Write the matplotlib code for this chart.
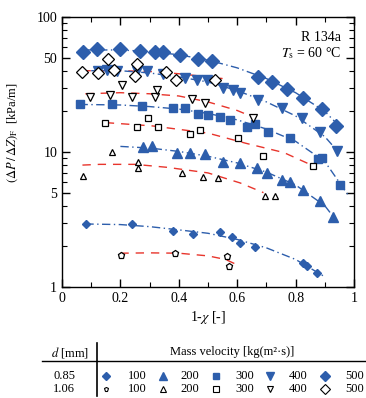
import numpy as np
import matplotlib
matplotlib.use("Agg")
import matplotlib.pyplot as plt
from matplotlib.ticker import FixedLocator, NullFormatter, MultipleLocator

plt.rcParams['font.family'] = ['Liberation Serif', 'DejaVu Serif']
plt.rcParams['mathtext.fontset'] = 'stix'

BLUE = '#2d5eac'
RED = '#e8352c'

# --- d = 0.85 mm (filled, blue) measured points ---
x85_500 = [0.072, 0.12, 0.199, 0.267, 0.318, 0.346, 0.404, 0.466, 0.514, 0.671, 0.719, 0.77, 0.825, 0.89, 0.94]
y85_500 = [55, 58, 58, 56, 55, 55, 52.3, 48.9, 47.2, 36, 33, 29.3, 25.1, 20.8, 15.6]
x85_400 = [0.123, 0.154, 0.188, 0.257, 0.29, 0.346, 0.421, 0.462, 0.497, 0.551, 0.586, 0.61, 0.671, 0.753, 0.822, 0.884, 0.942]
y85_400 = [39.8, 40.5, 40, 40, 40, 37.8, 35.3, 34.1, 34, 29.8, 28.8, 27.4, 24.3, 21.2, 17.9, 14.1, 10.2]
x85_300 = [0.062, 0.171, 0.274, 0.38, 0.421, 0.466, 0.5, 0.541, 0.575, 0.634, 0.661, 0.705, 0.781, 0.877, 0.89, 0.952]
y85_300 = [22.7, 22.7, 21.9, 21.2, 21.2, 19.1, 18.8, 18.2, 17.3, 15.3, 16.1, 14.1, 12.7, 8.9, 9.0, 5.7]
x85_200 = [0.277, 0.308, 0.394, 0.438, 0.49, 0.551, 0.61, 0.668, 0.702, 0.753, 0.781, 0.825, 0.884, 0.928]
y85_200 = [10.9, 11.1, 9.8, 9.8, 9.7, 8.4, 8.3, 7.6, 7.0, 6.2, 6.0, 5.2, 4.3, 3.3]
x85_100 = [0.082, 0.24, 0.38, 0.449, 0.541, 0.582, 0.61, 0.661, 0.825, 0.839, 0.873]
y85_100 = [2.93, 2.93, 2.6, 2.47, 2.55, 2.35, 2.12, 1.98, 1.5, 1.42, 1.27]

# --- d = 1.06 mm (hollow, black) measured points ---
x106_500 = [0.068, 0.123, 0.158, 0.178, 0.25, 0.257, 0.356, 0.39, 0.524]
y106_500 = [39.2, 38.5, 48.9, 40.5, 36.6, 44.9, 39.2, 34.2, 34.2]
x106_400 = [0.096, 0.164, 0.205, 0.24, 0.318, 0.325, 0.445, 0.49, 0.654]
y106_400 = [25.5, 26.4, 31.4, 25.5, 25.5, 28.8, 24.7, 23.1, 17.9]
x106_300 = [0.147, 0.257, 0.295, 0.329, 0.438, 0.473, 0.603, 0.688, 0.86]
y106_300 = [16.4, 15.3, 17.9, 15.3, 13.6, 14.6, 12.7, 9.3, 7.9]
x106_200 = [0.072, 0.171, 0.26, 0.26, 0.411, 0.483, 0.534, 0.695, 0.729]
y106_200 = [6.6, 10.0, 8.4, 7.6, 7.0, 6.5, 6.4, 4.7, 4.7]
x106_100 = [0.202, 0.387, 0.565, 0.572]
y106_100 = [1.73, 1.79, 1.70, 1.43]

# --- correlation curves ---
cx85_500 = [0.07, 0.2, 0.3, 0.4, 0.5, 0.6, 0.7, 0.8, 0.9, 0.95]
cy85_500 = [57, 57, 55.5, 52.5, 48, 42, 35, 27.5, 20, 15.5]
cx85_400 = [0.1, 0.2, 0.3, 0.4, 0.5, 0.6, 0.7, 0.8, 0.9, 0.95]
cy85_400 = [40, 40, 38.5, 36, 33, 28.5, 23.5, 18.5, 13, 9.8]
cx85_300 = [0.06, 0.2, 0.3, 0.4, 0.5, 0.6, 0.7, 0.8, 0.9, 0.98]
cy85_300 = [22.5, 22.3, 21.7, 20.8, 19.3, 17.3, 14.8, 12, 8.5, 4.8]
cx85_200 = [0.2, 0.3, 0.4, 0.5, 0.6, 0.7, 0.8, 0.9, 0.93]
cy85_200 = [11, 10.7, 10.1, 9.3, 8.3, 7.1, 5.7, 4.0, 3.3]
cx85_100 = [0.08, 0.2, 0.3, 0.4, 0.5, 0.6, 0.7, 0.8, 0.9]
cy85_100 = [2.93, 2.9, 2.8, 2.65, 2.5, 2.25, 1.95, 1.6, 1.19]

cx106_500 = [0.07, 0.2, 0.3, 0.4, 0.5, 0.55]
cy106_500 = [40, 40, 39.5, 38, 36, 35]
cx106_400 = [0.08, 0.2, 0.3, 0.4, 0.5, 0.6, 0.65]
cy106_400 = [27, 27.5, 27, 26, 23.5, 20.3, 18.3]
cx106_300 = [0.15, 0.31, 0.5, 0.63, 0.76, 0.86]
cy106_300 = [16.5, 15.6, 13.8, 11.6, 9.9, 7.9]
cx106_200 = [0.07, 0.13, 0.25, 0.36, 0.5, 0.61, 0.69]
cy106_200 = [8.0, 8.1, 8.1, 7.7, 7.0, 5.9, 5.0]
cx106_100 = [0.2, 0.3, 0.4, 0.5, 0.56, 0.6]
cy106_100 = [1.78, 1.79, 1.78, 1.7, 1.6, 1.46]

mass_velocity = ['100', '200', '300', '400', '500']
markers = ['D', '^', 's', 'v', 'D']
ms85 = [4.5, 6.5, 6, 6.5, 7]
ms106 = [4.5, 5, 5, 5.5, 6.5]
hollow_markers = ['p', '^', 's', 'v', 'D']

W, H = 366, 398
fig = plt.figure(figsize=(W / 100, H / 100), dpi=100)
ax = fig.add_axes([62 / W, 1 - 287 / H, 292 / W, 270 / H])

pts85 = [(x85_100, y85_100), (x85_200, y85_200), (x85_300, y85_300), (x85_400, y85_400), (x85_500, y85_500)]
cur85 = [(cx85_100, cy85_100), (cx85_200, cy85_200), (cx85_300, cy85_300), (cx85_400, cy85_400), (cx85_500, cy85_500)]
pts106 = [(x106_100, y106_100), (x106_200, y106_200), (x106_300, y106_300), (x106_400, y106_400), (x106_500, y106_500)]
cur106 = [(cx106_100, cy106_100), (cx106_200, cy106_200), (cx106_300, cy106_300), (cx106_400, cy106_400), (cx106_500, cy106_500)]

for (cx, cy) in cur106:
    ax.plot(cx, cy, color=RED, lw=1.0, dashes=(6, 5), zorder=2)
for (cx, cy) in cur85:
    ax.plot(cx, cy, color=BLUE, lw=1.0, dashes=(6, 2.5, 1, 2.5), zorder=2)

for i, (px, py) in enumerate(pts85):
    ax.plot(px, py, linestyle='none', marker=markers[i], ms=ms85[i],
            color=BLUE, mec=BLUE, zorder=3)
for i, (px, py) in enumerate(pts106):
    ax.plot(px, py, linestyle='none', marker=hollow_markers[i], ms=ms106[i],
            mfc='white', mec='black', mew=0.9, zorder=4)

ax.set_yscale('log')
ax.set_xlim(0, 1)
ax.set_ylim(1, 100)
ax.xaxis.set_minor_locator(MultipleLocator(0.1))
ax.set_xticks([0, 0.2, 0.4, 0.6, 0.8, 1.0])
ax.set_xticklabels(['0', '0.2', '0.4', '0.6', '0.8', '1'])
ax.yaxis.set_major_locator(FixedLocator([1, 5, 10, 50, 100]))
ax.set_yticklabels(['1', '5', '10', '50', '100'])
ax.yaxis.set_minor_locator(FixedLocator([2, 3, 4, 6, 7, 8, 9, 20, 30, 40, 60, 70, 80, 90]))
ax.yaxis.set_minor_formatter(NullFormatter())
ax.tick_params(which='both', direction='in', top=True, right=True, labelsize=10)
ax.tick_params(which='major', length=6, width=1)
ax.tick_params(which='minor', length=3.5, width=0.8)
for s in ax.spines.values():
    s.set_linewidth(1.0)

ax.set_xlabel(r'1-$\chi$ [-]', fontsize=10, labelpad=3)
ax.set_ylabel(r'$(\Delta P\,/\,\Delta Z)_{\rm F}$  [kPa/m]', fontsize=9)
ax.yaxis.set_label_coords(-0.145, 0.57)

ax.text(0.955, 0.925, 'R 134a', transform=ax.transAxes, ha='right', va='center', fontsize=10)
ax.text(0.955, 0.865, r'$T_{\rm s}$ = 60 °C', transform=ax.transAxes, ha='right', va='center', fontsize=10)

# table-style legend below the plot (pixel coordinates)
tab = fig.add_axes([0, 0, 1, 1], facecolor='none')
tab.set_xlim(0, W)
tab.set_ylim(H, 0)
tab.axis('off')
tab.plot([97, 97], [343, 396], color='black', lw=1.2)
tab.plot([42, 366], [361, 361], color='black', lw=1.0)
tab.text(70, 352, r'$d$ [mm]', ha='center', va='center', fontsize=9)
tab.text(232, 352, 'Mass velocity [kg(m²·s)]', ha='center', va='center', fontsize=9)
tab.text(64, 376, '0.85', ha='center', va='center', fontsize=9)
tab.text(64, 389, '1.06', ha='center', va='center', fontsize=9)
mk_x = [106, 163, 216, 270, 325]
tx_x = [137, 190, 245, 298, 355]
for i in range(5):
    tab.plot(mk_x[i], 376, marker=markers[i], ms=ms85[i] * 0.8, color=BLUE, linestyle='none')
    tab.plot(mk_x[i], 389, marker=hollow_markers[i], ms=ms106[i] * 0.8, mfc='white',
             mec='black', mew=0.8, linestyle='none')
    tab.text(tx_x[i], 376, mass_velocity[i], ha='center', va='center', fontsize=9)
    tab.text(tx_x[i], 389, mass_velocity[i], ha='center', va='center', fontsize=9)

fig.savefig('out.png', dpi=100)
